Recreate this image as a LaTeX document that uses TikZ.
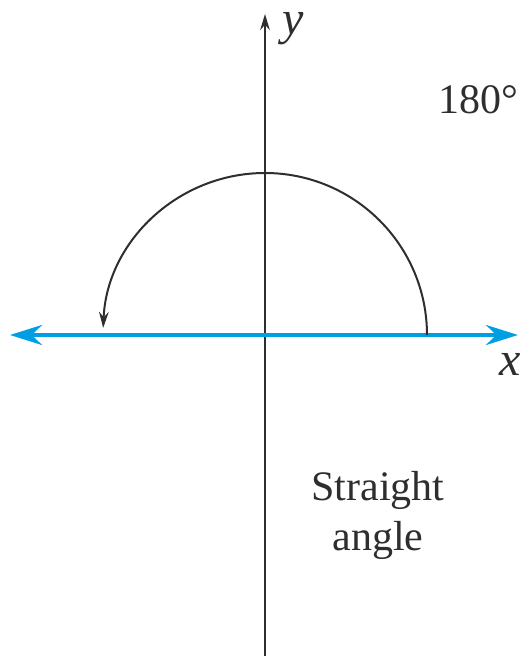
\documentclass[tikz,border=0pt]{standalone}
\usepackage{fontspec}
\setmainfont{Liberation Serif}
\usetikzlibrary{arrows.meta,positioning}
\definecolor{axblue}{rgb}{0.00,0.62,0.89}
\definecolor{axgray}{rgb}{0.18,0.18,0.18}

\begin{document}
\begin{tikzpicture}[
  x=0.25pt, y=0.25pt,
  font=\fontsize{10.5}{12.5}\selectfont,
  yax/.style={axgray, line width=0.5pt, -{Stealth[length=4pt,width=2.4pt]}},
  xax/.style={axblue, line width=1pt, {Stealth[length=8pt,width=5pt]}-{Stealth[length=8pt,width=5pt]}},
  turn/.style={axgray, line width=0.5pt, -{Stealth[length=4pt,width=2.4pt]}},
  lbl/.style={inner sep=0pt, axgray}
]
\useasboundingbox (0,0) rectangle (519,656);

% axes
\coordinate (origin) at (265,321);
\coordinate (ybot) at (265,0);
\coordinate (ytop) at (265,642);
\coordinate (xleft) at (10,321);
\coordinate (xright) at (518,321);
\coordinate (armstart) at (427,321);

\draw[yax] (ybot) -- (ytop);
\draw[xax] (xleft) -- (xright);

% the half turn
\draw[turn] (armstart) arc[start angle=0, end angle=177.5, radius=162];

\node[lbl, font=\fontsize{12}{14}\selectfont\itshape] (ylabel) at (293,627) {y};
\node[lbl, font=\fontsize{12}{14}\selectfont\itshape] (xlabel) at (510,292) {x};
\node[lbl, anchor=east] (deg) at (519,556) {180\textdegree};
\node[lbl, align=center] (name) at (378,141) {Straight\\angle};

\end{tikzpicture}
\end{document}
